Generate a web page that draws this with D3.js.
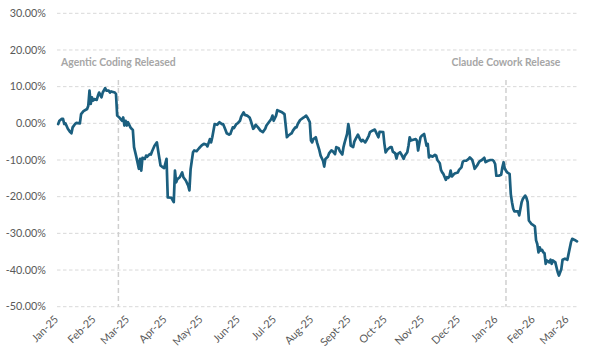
<!DOCTYPE html>
<html>
<head>
<meta charset="utf-8">
<script src="https://cdn.jsdelivr.net/npm/d3@7"></script>
<style>
  html, body { margin: 0; padding: 0; background: #ffffff; }
  svg { display: block; }
  text { font-family: Lato, "Liberation Sans", Arial, sans-serif; }
</style>
</head>
<body>
<svg id="chart" width="600" height="357"></svg>
<script>
// ---- data ----
const dates = [
  "2025-01-02","2025-01-03","2025-01-05","2025-01-06","2025-01-07","2025-01-08","2025-01-10","2025-01-12","2025-01-13","2025-01-14",
  "2025-01-16","2025-01-17","2025-01-20","2025-01-21","2025-01-23","2025-01-26","2025-01-27","2025-01-28","2025-01-29","2025-01-30",
  "2025-01-31","2025-02-01","2025-02-03","2025-02-04","2025-02-05","2025-02-07","2025-02-08","2025-02-10","2025-02-11","2025-02-13",
  "2025-02-14","2025-02-15","2025-02-18","2025-02-19","2025-02-20","2025-02-22","2025-02-24","2025-02-25","2025-02-26","2025-02-27",
  "2025-02-28","2025-03-01","2025-03-03","2025-03-04","2025-03-05","2025-03-06","2025-03-08","2025-03-10","2025-03-11","2025-03-12",
  "2025-03-13","2025-03-15","2025-03-16","2025-03-17","2025-03-19","2025-03-20","2025-03-21","2025-03-23","2025-03-25","2025-03-26",
  "2025-03-28","2025-03-30","2025-03-31","2025-04-02","2025-04-03","2025-04-06","2025-04-08","2025-04-09","2025-04-10","2025-04-11",
  "2025-04-13","2025-04-15","2025-04-16","2025-04-18","2025-04-20","2025-04-21","2025-04-22","2025-04-24","2025-04-25","2025-04-27",
  "2025-04-29","2025-05-01","2025-05-03","2025-05-05","2025-05-06","2025-05-08","2025-05-09","2025-05-10","2025-05-12","2025-05-14",
  "2025-05-16","2025-05-18","2025-05-19","2025-05-21","2025-05-22","2025-05-24","2025-05-25","2025-05-27","2025-05-28","2025-05-30",
  "2025-05-31","2025-06-02","2025-06-03","2025-06-05","2025-06-06","2025-06-08","2025-06-10","2025-06-11","2025-06-13","2025-06-14",
  "2025-06-15","2025-06-17","2025-06-19","2025-06-21","2025-06-23","2025-06-24","2025-06-26","2025-06-28","2025-06-29","2025-06-30",
  "2025-07-02","2025-07-03","2025-07-05","2025-07-07","2025-07-09","2025-07-10","2025-07-11","2025-07-12","2025-07-14","2025-07-15",
  "2025-07-16","2025-07-18","2025-07-19","2025-07-20","2025-07-22","2025-07-25","2025-07-27","2025-07-28","2025-07-30","2025-07-31",
  "2025-08-01","2025-08-02","2025-08-04","2025-08-05","2025-08-07","2025-08-08","2025-08-10","2025-08-11","2025-08-12","2025-08-14",
  "2025-08-15","2025-08-17","2025-08-18","2025-08-20","2025-08-21","2025-08-23","2025-08-24","2025-08-26","2025-08-27","2025-08-28",
  "2025-08-30","2025-08-31","2025-09-01","2025-09-02","2025-09-04","2025-09-05","2025-09-06","2025-09-08","2025-09-10","2025-09-11",
  "2025-09-12","2025-09-14","2025-09-15","2025-09-17","2025-09-18","2025-09-20","2025-09-22","2025-09-23","2025-09-25","2025-09-26",
  "2025-09-29","2025-09-30","2025-10-01","2025-10-02","2025-10-03","2025-10-05","2025-10-06","2025-10-07","2025-10-09","2025-10-10",
  "2025-10-11","2025-10-13","2025-10-14","2025-10-16","2025-10-17","2025-10-19","2025-10-20","2025-10-21","2025-10-22","2025-10-24",
  "2025-10-26","2025-10-27","2025-10-28","2025-10-29","2025-10-30","2025-10-31","2025-11-02","2025-11-04","2025-11-05","2025-11-06",
  "2025-11-07","2025-11-09","2025-11-11","2025-11-12","2025-11-13","2025-11-15","2025-11-16","2025-11-17","2025-11-18","2025-11-20",
  "2025-11-21","2025-11-22","2025-11-23","2025-11-24","2025-11-25","2025-11-27","2025-11-28","2025-11-30","2025-12-01","2025-12-03",
  "2025-12-04","2025-12-05","2025-12-07","2025-12-09","2025-12-10","2025-12-12","2025-12-13","2025-12-14","2025-12-16","2025-12-17",
  "2025-12-18","2025-12-20","2025-12-22","2025-12-23","2025-12-25","2025-12-27","2025-12-29","2025-12-30","2025-12-31","2026-01-01",
  "2026-01-03","2026-01-05","2026-01-06","2026-01-07","2026-01-08","2026-01-10","2026-01-12","2026-01-13","2026-01-14","2026-01-15",
  "2026-01-16","2026-01-19","2026-01-20","2026-01-21","2026-01-22","2026-01-23","2026-01-25","2026-01-26","2026-01-27","2026-01-28",
  "2026-01-30","2026-01-31","2026-02-02","2026-02-03","2026-02-04","2026-02-05","2026-02-06","2026-02-07","2026-02-08","2026-02-09",
  "2026-02-10","2026-02-11","2026-02-12","2026-02-14","2026-02-15","2026-02-16","2026-02-17","2026-02-19","2026-02-20","2026-02-21",
  "2026-02-22","2026-02-24","2026-02-25","2026-02-27","2026-03-01","2026-03-02","2026-03-04","2026-03-05","2026-03-07","2026-03-09"
];
const values = [
  -0.2,0.7,1.2,1.2,-0.2,0.0,-1.5,-2.4,-2.7,-1.1,
  -0.2,0.1,0.0,2.5,3.3,3.9,4.8,8.9,5.3,7.1,
  6.2,6.6,6.4,7.5,8.4,7.1,8.4,9.6,8.9,8.9,
  8.4,8.7,8.4,8.0,2.1,1.5,0.7,1.6,-0.6,0.7,
  -0.6,0.3,-1.1,-1.5,-1.8,-6.5,-9.3,-12.4,-9.7,-12.9,
  -9.4,-9.7,-8.8,-9.1,-8.4,-8.5,-7.6,-6.1,-5.2,-7.4,
  -11.5,-12.0,-12.2,-9.7,-20.2,-20.3,-21.5,-12.9,-16.1,-15.2,
  -14.7,-13.4,-14.7,-15.6,-17.0,-18.3,-12.5,-7.9,-7.4,-7.6,
  -6.8,-6.1,-5.6,-5.8,-6.3,-4.3,-5.2,-3.8,-0.2,-0.4,
  0.3,-0.2,-0.2,-1.8,-2.7,-3.1,-2.9,-1.1,-1.3,-0.2,
  0.0,0.7,1.8,3.0,2.3,2.1,1.6,0.7,-1.5,-1.1,
  -0.4,-1.1,-2.0,-2.4,-1.5,-0.6,0.3,1.2,2.1,0.7,
  2.1,3.6,3.3,3.0,2.5,-0.6,-3.8,-3.4,-2.9,-2.7,
  -2.0,-1.1,-1.1,-0.2,0.9,1.6,2.1,1.6,0.3,-4.7,
  -5.2,-4.3,-3.8,-5.2,-7.4,-8.8,-10.2,-11.8,-9.7,-9.1,
  -8.2,-7.4,-7.6,-8.4,-6.5,-6.8,-7.6,-8.5,-6.5,-5.2,
  -2.9,-0.2,-2.0,-6.1,-6.5,-5.0,-4.3,-3.1,-4.5,-4.9,
  -4.5,-5.2,-4.7,-3.4,-2.4,-2.0,-1.7,-2.4,-3.8,-2.3,
  -2.4,-5.6,-7.9,-7.4,-7.0,-6.5,-6.5,-7.7,-8.2,-9.6,
  -8.4,-7.9,-8.4,-9.7,-8.8,-7.9,-6.1,-3.8,-4.7,-4.5,
  -4.3,-4.7,-7.4,-5.6,-3.8,-3.4,-2.9,-6.1,-5.6,-9.3,
  -8.8,-9.1,-8.6,-8.8,-10.0,-10.9,-12.7,-13.4,-13.8,-15.4,
  -14.7,-14.9,-14.5,-12.9,-14.5,-13.8,-13.6,-13.4,-12.7,-12.0,
  -10.6,-10.2,-10.2,-9.7,-9.3,-10.0,-11.1,-12.4,-11.5,-10.9,
  -10.4,-10.0,-9.4,-10.6,-10.2,-10.0,-10.0,-10.4,-11.1,-14.3,
  -14.3,-14.0,-12.0,-10.6,-12.4,-13.4,-13.8,-19.3,-21.5,-23.3,
  -24.0,-24.0,-25.1,-23.3,-21.5,-20.6,-19.7,-20.3,-21.5,-26.5,
  -27.4,-27.6,-28.1,-31.9,-32.9,-35.2,-33.8,-34.7,-34.5,-35.2,
  -35.4,-38.3,-37.4,-37.9,-37.2,-38.3,-37.4,-37.9,-39.3,-40.6,
  -41.5,-39.7,-37.2,-36.9,-37.2,-35.6,-32.4,-31.5,-31.8,-32.2
];
const yTicks = [30, 20, 10, 0, -10, -20, -30, -40, -50];
const xTickLabels = ["Jan-25","Feb-25","Mar-25","Apr-25","May-25","Jun-25","Jul-25","Aug-25","Sept-25","Oct-25","Nov-25","Dec-25","Jan-26","Feb-26","Mar-26"];
const xTickDates = ["2025-01-01","2025-02-01","2025-03-01","2025-04-01","2025-05-01","2025-06-01","2025-07-01","2025-08-01","2025-09-01","2025-10-01","2025-11-01","2025-12-01","2026-01-01","2026-02-01","2026-03-01"];
const eventLabels = ["Agentic Coding Released", "Claude Cowork Release"];
const eventDates = ["2025-02-21", "2026-01-09"];
const domainDates = ["2025-01-01", "2026-03-09"];

// ---- drawing ----
(function () {
  const parse = d3.utcParse("%Y-%m-%d");
  const series = dates.map((d, i) => ({ date: parse(d), value: values[i] }));

  const svg = d3.select("#chart");
  const plotLeft = 57, plotRight = 577, plotTop = 13.3, plotBottom = 306.7;

  const x = d3.scaleUtc().domain(domainDates.map(parse)).range([plotLeft, plotRight]);
  const y = d3.scaleLinear().domain([-50, 30]).range([plotBottom, plotTop]);

  const fmt = v => v.toFixed(2) + "%";

  // gridlines
  svg.append("g").selectAll("line").data(yTicks).join("line")
    .attr("x1", plotLeft).attr("x2", plotRight)
    .attr("y1", d => y(d)).attr("y2", d => y(d))
    .attr("stroke", "#d9d9d9").attr("stroke-width", 1)
    .attr("stroke-dasharray", "3.5,2.5");

  // y axis labels
  svg.append("g").selectAll("text").data(yTicks).join("text")
    .attr("x", 46).attr("y", d => y(d)).attr("dy", "0.35em")
    .attr("text-anchor", "end")
    .attr("font-size", "10.8px").attr("fill", "#595959")
    .text(fmt);

  // x axis labels (rotated)
  svg.append("g").selectAll("text").data(xTickDates).join("text")
    .attr("transform", d => `translate(${x(parse(d)) + 2},320) rotate(-45)`)
    .attr("text-anchor", "end")
    .attr("font-size", "10.8px").attr("fill", "#595959")
    .text((d, i) => xTickLabels[i]);

  // event lines
  const ev = eventDates.map((d, i) => ({ date: parse(d), label: eventLabels[i] }));
  svg.append("g").selectAll("line").data(ev).join("line")
    .attr("x1", d => x(d.date)).attr("x2", d => x(d.date))
    .attr("y1", 80).attr("y2", plotBottom)
    .attr("stroke", "#cfcfcf").attr("stroke-width", 1.5)
    .attr("stroke-dasharray", "5,3");
  svg.append("g").selectAll("text").data(ev).join("text")
    .attr("x", d => x(d.date)).attr("y", 65.5)
    .attr("text-anchor", "middle")
    .attr("font-size", "10.4px").attr("font-weight", "bold").attr("fill", "#a6a6a6")
    .text(d => d.label);

  // series line
  const line = d3.line().x(d => x(d.date)).y(d => y(d.value));
  svg.append("path").datum(series)
    .attr("d", line)
    .attr("fill", "none")
    .attr("stroke", "#1b5f7f")
    .attr("stroke-width", 2.7)
    .attr("stroke-linejoin", "round")
    .attr("stroke-linecap", "round");
})();
</script>
</body>
</html>
